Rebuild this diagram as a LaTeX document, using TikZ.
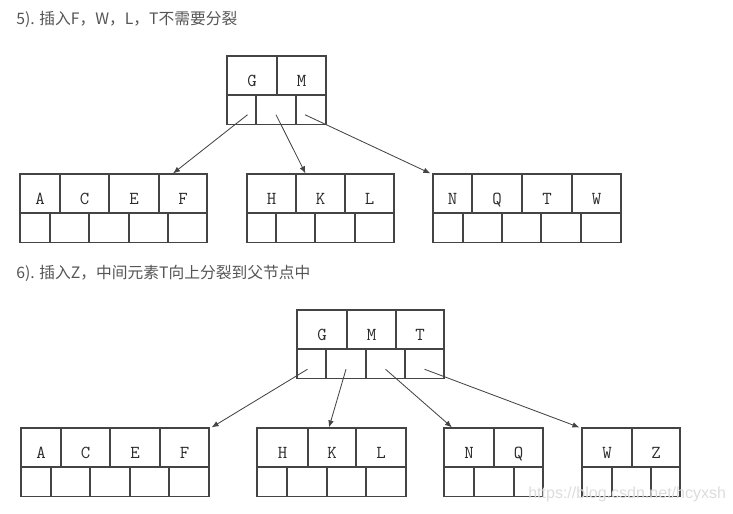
\documentclass[tikz,border=0pt]{standalone}
\usepackage{fontspec}
\newfontfamily\cjk{Noto Sans CJK SC}
\newfontfamily\wmfont{Liberation Sans}
\usetikzlibrary{arrows.meta}
\definecolor{linec}{HTML}{444444}
\definecolor{keyc}{HTML}{2A2A2A}
\definecolor{headc}{HTML}{555555}
\definecolor{wmc}{HTML}{DCDCDC}
\tikzset{
  key/.style={draw=linec, line width=0.8pt, minimum width=#1*0.25mm, minimum height=9.75mm,
    inner sep=0pt, text height=16pt, text depth=0pt, text=keyc, font=\fontsize{13}{15}\selectfont\ttfamily},
  ptr/.style={draw=linec, line width=0.8pt, minimum width=#1*0.25mm, minimum height=7.375mm, inner sep=0pt},
  link/.style={draw=linec, line width=0.6pt, -{Latex[length=5pt,width=4pt]}},
  heading/.style={anchor=west, inner sep=0pt, text=headc, font=\cjk\fontsize{11.2}{13}\selectfont}
}
\begin{document}
\begin{tikzpicture}[x=0.25mm,y=-0.25mm]
            \useasboundingbox (0,0) rectangle (733,514);

            \node[heading] (title5) at (16,19) {5). 插入F，W，L，T不需要分裂};
            \node[heading] (title6) at (16,273) {6). 插入Z，中间元素T向上分裂到父节点中};

            % 5) root
            \node[key=50] (r1k1) at (252,75.5) {G};
            \node[key=49] (r1k2) at (301.5,75.5) {M};
            \node[ptr=29] (r1p1) at (241.5,109.75) {};
            \node[ptr=40] (r1p2) at (276,109.75) {};
            \node[ptr=30] (r1p3) at (311,109.75) {};
            % 5) leaves
            \node[key=40] (a1k1) at (40,193.5) {A};
            \node[key=49] (a1k2) at (84.5,193.5) {C};
            \node[key=50] (a1k3) at (134,193.5) {E};
            \node[key=48] (a1k4) at (183,193.5) {F};
            \node[ptr=30] (a1p1) at (35,227.75) {};
            \node[ptr=39] (a1p2) at (69.5,227.75) {};
            \node[ptr=40] (a1p3) at (109,227.75) {};
            \node[ptr=39] (a1p4) at (148.5,227.75) {};
            \node[ptr=39] (a1p5) at (187.5,227.75) {};

            \node[key=49] (b1k1) at (271.5,193.5) {H};
            \node[key=49] (b1k2) at (320.5,193.5) {K};
            \node[key=49] (b1k3) at (369.5,193.5) {L};
            \node[ptr=29] (b1p1) at (261.5,227.75) {};
            \node[ptr=39] (b1p2) at (295.5,227.75) {};
            \node[ptr=40] (b1p3) at (335,227.75) {};
            \node[ptr=39] (b1p4) at (374.5,227.75) {};

            \node[key=39] (c1k1) at (452.5,193.5) {N};
            \node[key=50] (c1k2) at (497,193.5) {Q};
            \node[key=50] (c1k3) at (547,193.5) {T};
            \node[key=49] (c1k4) at (596.5,193.5) {W};
            \node[ptr=30] (c1p1) at (448,227.75) {};
            \node[ptr=39] (c1p2) at (482.5,227.75) {};
            \node[ptr=39] (c1p3) at (521.5,227.75) {};
            \node[ptr=40] (c1p4) at (561,227.75) {};
            \node[ptr=40] (c1p5) at (601,227.75) {};

            % 6) root
            \node[key=50] (r2k1) at (322,329.5) {G};
            \node[key=49] (r2k2) at (371.5,329.5) {M};
            \node[key=48] (r2k3) at (420,329.5) {T};
            \node[ptr=29] (r2p1) at (311.5,363.75) {};
            \node[ptr=40] (r2p2) at (346,363.75) {};
            \node[ptr=39] (r2p3) at (385.5,363.75) {};
            \node[ptr=39] (r2p4) at (424.5,363.75) {};
            % 6) leaves
            \node[key=40] (a2k1) at (41,447.5) {A};
            \node[key=49] (a2k2) at (85.5,447.5) {C};
            \node[key=50] (a2k3) at (135,447.5) {E};
            \node[key=49] (a2k4) at (184.5,447.5) {F};
            \node[ptr=30] (a2p1) at (36,481.75) {};
            \node[ptr=39] (a2p2) at (70.5,481.75) {};
            \node[ptr=40] (a2p3) at (110,481.75) {};
            \node[ptr=39] (a2p4) at (149.5,481.75) {};
            \node[ptr=40] (a2p5) at (189,481.75) {};

            \node[key=51] (b2k1) at (282.5,447.5) {H};
            \node[key=48] (b2k2) at (332,447.5) {K};
            \node[key=50] (b2k3) at (381,447.5) {L};
            \node[ptr=30] (b2p1) at (272,481.75) {};
            \node[ptr=40] (b2p2) at (307,481.75) {};
            \node[ptr=39] (b2p3) at (346.5,481.75) {};
            \node[ptr=40] (b2p4) at (386,481.75) {};

            \node[key=50] (c2k1) at (469,447.5) {N};
            \node[key=49] (c2k2) at (518.5,447.5) {Q};
            \node[ptr=30] (c2p1) at (459,481.75) {};
            \node[ptr=40] (c2p2) at (494,481.75) {};
            \node[ptr=29] (c2p3) at (528.5,481.75) {};

            \node[key=50] (d2k1) at (607,447.5) {W};
            \node[key=48] (d2k2) at (656,447.5) {Z};
            \node[ptr=30] (d2p1) at (597,481.75) {};
            \node[ptr=39] (d2p2) at (631.5,481.75) {};
            \node[ptr=29] (d2p3) at (665.5,481.75) {};

            \draw[link] ([shift={(6,5)}]r1p1.center) to ([shift={(-10,0)}]a1k4.north);
            \draw[link] ([shift={(0,5)}]r1p2.center) to ([shift={(-15,0)}]b1k2.north);
            \draw[link] ([shift={(-6,5)}]r1p3.center) to ([shift={(-2,0)}]c1k1.north west);
            \draw[link] ([shift={(-4,5.5)}]r2p1.center) to ([shift={(2,0)}]a2k4.north east);
            \draw[link] ([shift={(0,5.5)}]r2p2.center) to ([shift={(-3,0)}]b2k2.north);
            \draw[link] ([shift={(0,5.5)}]r2p3.center) to ([shift={(-17,0)}]c2k1.north);
            \draw[link] ([shift={(0,5.5)}]r2p4.center) to ([shift={(-2,0)}]d2k1.north west);

            \node[anchor=west, inner sep=0pt, text=wmc, font=\wmfont\fontsize{11.4}{13}\selectfont] (wm) at (528,494) {https://blog.csdn.net/hcyxsh};
        \end{tikzpicture}
\end{document}
